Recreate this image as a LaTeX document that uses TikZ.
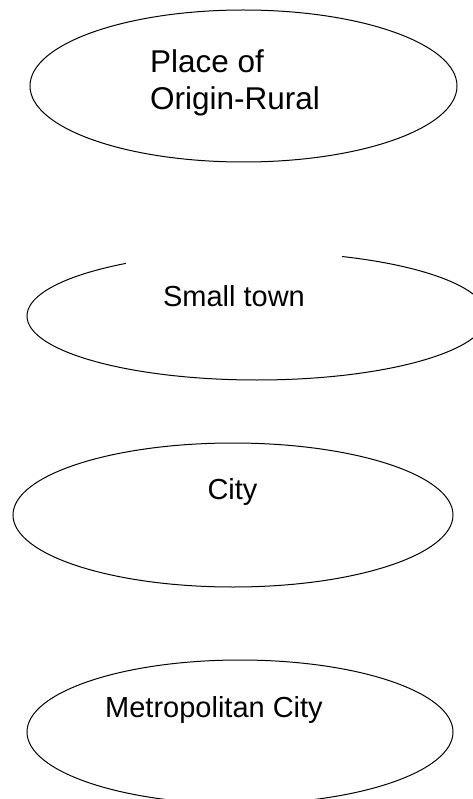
\documentclass[tikz,border=0pt]{standalone}
\usepackage{fontspec}
\setmainfont{Liberation Sans}
\usetikzlibrary{shapes.geometric}
\begin{document}
\begin{tikzpicture}[x=1pt, y=-1pt,
  zone/.style={draw, ellipse, line width=1pt, inner sep=0pt},
  big/.style={font=\fontsize{31.5}{37}\selectfont},
  small/.style={font=\fontsize{29}{35}\selectfont}]
\useasboundingbox (0,0) rectangle (472,799);

\node[zone, minimum width=427pt, minimum height=152pt] (rural) at (243.5,86) {};
\node[zone, minimum width=460pt, minimum height=128pt] (town) at (257,316) {};
\node[zone, minimum width=440pt, minimum height=144pt] (city) at (233,515) {};
\node[zone, minimum width=426pt, minimum height=144pt] (metro) at (240,732) {};

\node[big, align=left, anchor=base west, inner sep=0pt] (ruraltext) at (150,110) {Place of\\Origin-Rural};
\node[small, anchor=base, inner sep=0pt, fill=white, minimum width=216pt,
      text height=56pt, text depth=6pt] (towntext) at (234,306) {Small town};
\node[small, anchor=base, inner sep=0pt] (citytext) at (232.5,499) {City};
\node[small, anchor=base, inner sep=0pt] (metrotext) at (214,717) {Metropolitan City};
\end{tikzpicture}
\end{document}
